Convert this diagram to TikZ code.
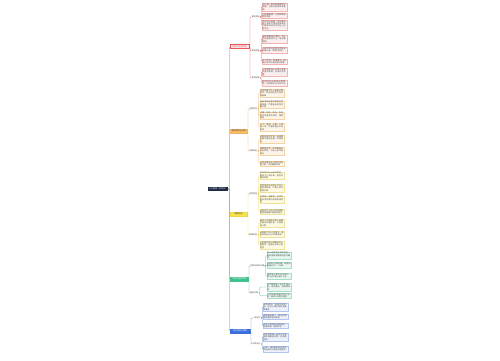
\documentclass[tikz,border=0pt]{standalone}
\usepackage{fontspec}
\newfontfamily\cjk{Noto Sans CJK SC}
\XeTeXlinebreaklocale "zh"
\XeTeXlinebreakskip=0pt plus 1pt

\definecolor{rootnavy}{HTML}{1E2B45}
\definecolor{redline}{HTML}{E5575C}
\definecolor{redfill}{HTML}{FDE4E4}
\definecolor{redleaf}{HTML}{FDEFEF}
\definecolor{redleafline}{HTML}{F3B3B3}
\definecolor{orangeline}{HTML}{F2B062}
\definecolor{orangefill}{HTML}{F8BD5E}
\definecolor{orangeleaf}{HTML}{FEF5E8}
\definecolor{orangeleafline}{HTML}{F5D3A2}
\definecolor{yellowline}{HTML}{EDD545}
\definecolor{yellowfill}{HTML}{F6E24A}
\definecolor{yellowleaf}{HTML}{FEFAE2}
\definecolor{yellowleafline}{HTML}{EFE19C}
\definecolor{greenline}{HTML}{44C290}
\definecolor{greenfill}{HTML}{3DBE8B}
\definecolor{greenleaf}{HTML}{E7F7EF}
\definecolor{greenleafline}{HTML}{A6DFC4}
\definecolor{blueline}{HTML}{5A7FDC}
\definecolor{bluefill}{HTML}{3D6FDB}
\definecolor{blueleaf}{HTML}{EAF0FC}
\definecolor{blueleafline}{HTML}{B2C5F0}

\tikzset{
  >=stealth,
  mapfont/.style={font=\cjk\fontsize{2}{2.4}\selectfont},
  rootbox/.style={mapfont, fill=rootnavy, text=white, inner sep=0.8pt, anchor=west},
  topicbox/.style={mapfont, anchor=west, minimum height=3.8pt, inner sep=0.5pt, line width=0.3pt},
  subtopic/.style={mapfont, anchor=west, inner sep=0.4pt, text=black!70},
  leafbox/.style={mapfont, anchor=west, text width=23.5pt, align=left, inner sep=0.5pt, line width=0.25pt, text=black!70},
  link/.style={line width=0.35pt, rounded corners=0.8pt},
}

\begin{document}
\begin{tikzpicture}[x=1pt, y=-1pt]
    \useasboundingbox (0,0) rectangle (500,360);
    % root
    \node[rootbox] (M) at (208,189) {心力衰竭（内科学）};
    % first level
    \node[topicbox, minimum width=19pt, draw=redline, fill=redfill, text=redline] (A) at (230,46.5) {病因与发病机制};
    \node[topicbox, minimum width=17pt, draw=orangeline, fill=orangefill, text=black!75] (B) at (230,131) {临床表现与分级};
    \node[topicbox, minimum width=17pt, draw=yellowline, fill=yellowfill, text=black!75] (C) at (230,214) {辅助检查};
    \node[topicbox, minimum width=18pt, draw=greenline, fill=greenfill, text=white] (D) at (230,279) {诊断与鉴别诊断};
    \node[topicbox, minimum width=20pt, draw=bluefill, fill=bluefill, text=white] (E) at (230,331) {治疗原则与预防};
    % second level
    \node[subtopic] (A1) at (251,17) {基本病因};
    \node[subtopic] (A2) at (251,51) {诱发因素};
    \node[subtopic] (A3) at (251,78) {发病机制};
    \node[subtopic] (B1) at (248.5,109) {主要症状};
    \node[subtopic] (B2) at (248.5,151) {主要体征};
    \node[subtopic] (C1) at (248.5,194) {实验检查};
    \node[subtopic] (C2) at (248.5,235) {影像检查};
    \node[subtopic] (D1) at (249.5,266) {诊断标准及分期};
    \node[subtopic] (D2) at (249.5,293) {鉴别诊断};
    \node[subtopic] (E1) at (252,318) {一般治疗};
    \node[subtopic] (E2) at (252,344) {药物治疗};
    % leaves
    \node[leafbox, draw=redleafline, fill=redleaf] (A1a) at (262,7) {冠心病、高血压是最常见病因，可致心肌损伤及重构};
    \node[leafbox, draw=redleafline, fill=redleaf] (A1b) at (262,15.5) {心脏瓣膜病、心肌病等结构性病变};
    \node[leafbox, draw=redleafline, fill=redleaf] (A1c) at (262,25) {先天性心脏病、甲状腺功能亢进及严重贫血等高动力循环状态均可引起心功能不全};
    \node[leafbox, draw=redleafline, fill=redleaf] (A2a) at (262,39) {感染是最常见诱因，尤以呼吸道感染为主，易加重病情};
    \node[leafbox, draw=redleafline, fill=redleaf] (A2b) at (262,50) {心律失常如房颤可诱发或加重心衰，需及时控制};
    \node[leafbox, draw=redleafline, fill=redleaf] (A2c) at (262,61.5) {体力过劳、情绪激动、输液过多过快及妊娠分娩等};
    \node[leafbox, draw=redleafline, fill=redleaf] (A3a) at (262,72) {心室重构是心衰发生发展的基本机制，呈进行性加重};
    \node[leafbox, draw=redleafline, fill=redleaf] (A3b) at (262,83) {神经内分泌系统过度激活，交感及RAAS系统亢进};
    \node[leafbox, draw=orangeleafline, fill=orangeleaf] (B1a) at (259.5,93) {呼吸困难为左心衰最主要症状，依次出现劳力性呼吸困难};
    \node[leafbox, draw=orangeleafline, fill=orangeleaf] (B1b) at (259.5,104.5) {端坐呼吸及夜间阵发性呼吸困难，严重者出现急性肺水肿};
    \node[leafbox, draw=orangeleafline, fill=orangeleaf] (B1c) at (259.5,115.5) {咳嗽、咳痰、咯血，痰呈白色浆液性泡沫状，偶带血丝};
    \node[leafbox, draw=orangeleafline, fill=orangeleaf] (B1d) at (259.5,127) {乏力、疲倦、头晕、心慌及少尿，为器官灌注不足表现};
    \node[leafbox, draw=orangeleafline, fill=orangeleaf] (B2a) at (259.5,139) {双肺底湿性啰音，随病情加重可遍及全肺，伴哮鸣音};
    \node[leafbox, draw=orangeleafline, fill=orangeleaf] (B2b) at (259.5,151) {颈静脉怒张、肝颈静脉反流征阳性，为右心衰可靠体征};
    \node[leafbox, draw=orangeleafline, fill=orangeleaf] (B2c) at (259.5,163.5) {身体低垂部位对称性凹陷性水肿，可伴胸腔积液};
    \node[leafbox, draw=yellowleafline, fill=yellowleaf] (C1a) at (259.5,175.5) {BNP及NT-proBNP测定，有助于心衰诊断、鉴别及预后判断};
    \node[leafbox, draw=yellowleafline, fill=yellowleaf] (C1b) at (259.5,188) {肌钙蛋白检测用于评估心肌损伤程度，严重心衰可轻度升高};
    \node[leafbox, draw=yellowleafline, fill=yellowleaf] (C1c) at (259.5,199.5) {血常规、电解质、肝肾功能及甲状腺功能等常规检查};
    \node[leafbox, draw=yellowleafline, fill=yellowleaf] (C1d) at (259.5,211.5) {动脉血气分析可评估缺氧程度及酸碱平衡紊乱情况};
    \node[leafbox, draw=yellowleafline, fill=yellowleaf] (C2a) at (259.5,223) {超声心动图是诊断心衰最主要的仪器检查，可测射血分数};
    \node[leafbox, draw=yellowleafline, fill=yellowleaf] (C2b) at (259.5,234) {X线胸片可见心影增大、肺淤血及Kerley B线等改变};
    \node[leafbox, draw=yellowleafline, fill=yellowleaf] (C2c) at (259.5,245) {心脏磁共振可准确评估心腔容积、室壁运动及心肌活性};
    \node[leafbox, draw=greenleafline, fill=greenleaf] (D1a) at (266.5,255.5) {有心衰典型症状及体征，结合病因和辅助检查可确诊};
    \node[leafbox, draw=greenleafline, fill=greenleaf] (D1b) at (266.5,265) {NYHA心功能分级：按活动耐量分为Ⅰ～Ⅳ级};
    \node[leafbox, draw=greenleafline, fill=greenleaf] (D1c) at (266.5,276) {按射血分数分为HFrEF、HFmrEF及HFpEF三型};
    \node[leafbox, draw=greenleafline, fill=greenleaf] (D2a) at (266.5,287) {支气管哮喘：多见于青少年，有过敏史，双肺哮鸣音};
    \node[leafbox, draw=greenleafline, fill=greenleaf] (D2b) at (266.5,295.5) {心包积液及缩窄性心包炎：超声心动图可鉴别};
    \node[leafbox, draw=blueleafline, fill=blueleaf] (E1a) at (263,307) {去除诱因，积极控制感染，纠正心律失常及电解质紊乱};
    \node[leafbox, draw=blueleafline, fill=blueleaf] (E1b) at (263,316.5) {限制钠盐摄入，适当控制液体量并监测体重};
    \node[leafbox, draw=blueleafline, fill=blueleaf] (E1c) at (263,325.5) {休息与适度运动相结合，戒烟限酒，规律作息};
    \node[leafbox, draw=blueleafline, fill=blueleaf] (E2a) at (263,337) {利尿剂是唯一能充分控制液体潴留的药物，应首选使用};
    \node[leafbox, draw=blueleafline, fill=blueleaf] (E2b) at (263,349) {ACEI、ARB或ARNI及β受体阻滞剂可改善长期预后};
    % connectors
    \foreach \p/\c in {A/redline, B/orangeline, C/yellowline, D/greenline, E/blueline}
    \draw[link, \c] (M.east) -- ++(1.5,0) |- (\p.west);
    \foreach \p/\q/\c in {A/A1/redline, A/A2/redline, A/A3/redline, B/B1/orangeline, B/B2/orangeline, C/C1/yellowline, C/C2/yellowline, D/D1/greenline, D/D2/greenline, E/E1/blueline, E/E2/blueline}
    \draw[link, \c] (\p.east) -- ++(0.7,0) |- (\q.west);
    \foreach \q/\r/\c in {A1/A1a/redline, A1/A1b/redline, A1/A1c/redline, A2/A2a/redline, A2/A2b/redline, A2/A2c/redline, A3/A3a/redline, A3/A3b/redline, B1/B1a/orangeline, B1/B1b/orangeline, B1/B1c/orangeline, B1/B1d/orangeline, B2/B2a/orangeline, B2/B2b/orangeline, B2/B2c/orangeline, C1/C1a/yellowline, C1/C1b/yellowline, C1/C1c/yellowline, C1/C1d/yellowline, C2/C2a/yellowline, C2/C2b/yellowline, C2/C2c/yellowline, D1/D1a/greenline, D1/D1b/greenline, D1/D1c/greenline, D2/D2a/greenline, D2/D2b/greenline, E1/E1a/blueline, E1/E1b/blueline, E1/E1c/blueline, E2/E2a/blueline, E2/E2b/blueline}
    \draw[link, \c] (\q.east) -- ++(1,0) |- (\r.west);
\end{tikzpicture}
\end{document}
